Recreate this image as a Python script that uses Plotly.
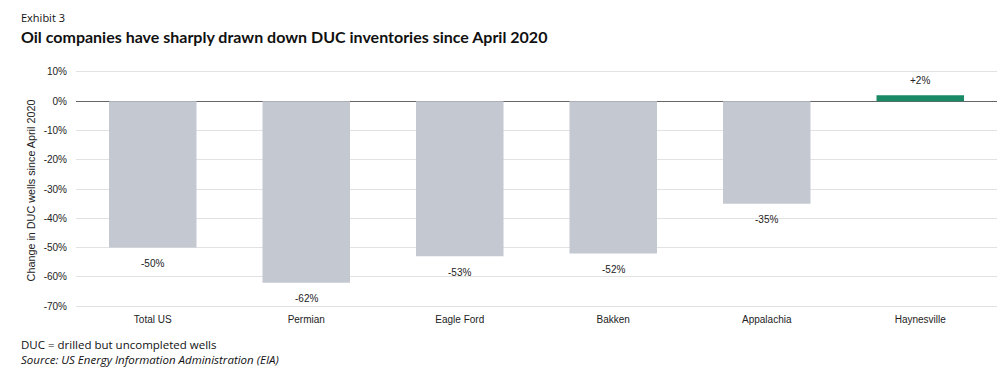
import plotly.graph_objects as go

categories = ["Total US", "Permian", "Eagle Ford", "Bakken", "Appalachia", "Haynesville"]
values = [-50, -62, -53, -52, -35, 2]
labels = ["-50%", "-62%", "-53%", "-52%", "-35%", "+2%"]
tick_vals = [10, 0, -10, -20, -30, -40, -50, -60, -70]
tick_text = ["10%", "0%", "-10%", "-20%", "-30%", "-40%", "-50%", "-60%", "-70%"]

colors = ["#1a8a66" if v > 0 else "#c4c8d1" for v in values]

fig = go.Figure()
fig.add_trace(go.Bar(
    x=categories, y=values, marker=dict(color=colors, line=dict(width=0)),
    hoverinfo="skip",
))

for c, v, t in zip(categories, values, labels):
    fig.add_annotation(x=c, y=v, text=t, showarrow=False,
                       yshift=(15 if v > 0 else -16), yanchor="middle",
                       font=dict(family="Liberation Sans, Arial", size=10, color="#222"))

fig.update_layout(
    width=1003, height=373,
    margin=dict(l=76, r=6, t=69, b=61),
    paper_bgcolor="white", plot_bgcolor="white",
    bargap=0.43, showlegend=False,
    font=dict(family="Liberation Sans, Arial", size=10, color="#222"),
)
fig.update_xaxes(
    showgrid=False, zeroline=False, showline=False, ticks="",
    tickfont=dict(size=10, color="#222"),
)
fig.update_yaxes(
    range=[-72, 11], tickvals=tick_vals, ticktext=tick_text,
    showgrid=True, gridcolor="#e2e2e2", gridwidth=1,
    zeroline=True, zerolinecolor="#666", zerolinewidth=1,
    ticks="", tickfont=dict(size=10, color="#222"), ticklabelstandoff=8,
    title=dict(text="Change in DUC wells since April 2020", font=dict(size=10.8, color="#222"), standoff=5),
)

def add_text(txt, px, py, size, bold=False, italic=False, family="Open Sans"):
    x = (px - 76) / 921
    y = (373 - 61 - py) / 243
    t = f"<b>{txt}</b>" if bold else txt
    t = f"<i>{t}</i>" if italic else t
    fig.add_annotation(text=t, xref="paper", yref="paper", x=x, y=y,
                       xanchor="left", yanchor="middle", showarrow=False,
                       font=dict(family=family, size=size, color="#111"))

add_text("Exhibit 3", 19, 17, 11)
add_text("Oil companies have sharply drawn down DUC inventories since April 2020", 19, 37, 16, bold=True, family="Lato")
add_text("DUC = drilled but uncompleted wells", 19, 344, 11.5)
add_text("Source: US Energy Information Administration (EIA)", 19, 359, 11.5, italic=True)

fig.write_html("out.html")
